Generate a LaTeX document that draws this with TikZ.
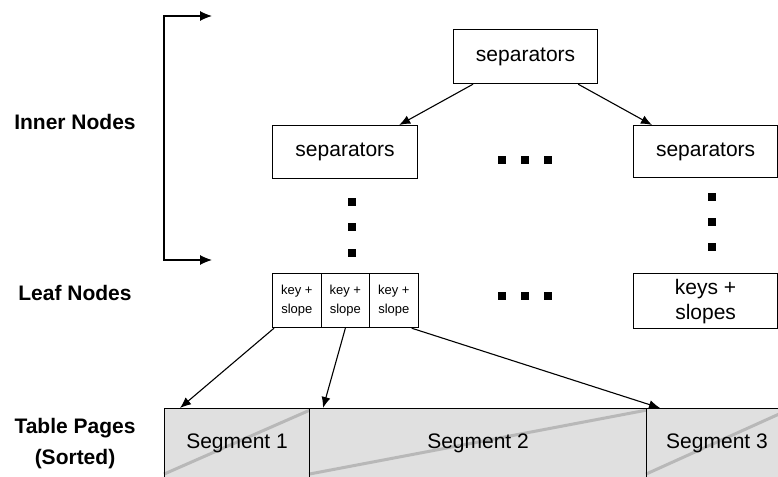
\documentclass[tikz,border=0pt]{standalone}
\usepackage{fontspec}
\setmainfont{Liberation Sans}
\usetikzlibrary{arrows.meta,backgrounds}
\begin{document}
\begin{tikzpicture}[x=1pt,y=-1pt,
  font=\fontsize{21}{25}\selectfont,
  box/.style={draw,line width=1.2pt,inner sep=0pt,anchor=north west,align=center},
  cell/.style={draw,line width=1.2pt,inner sep=0pt,anchor=north west,align=center,
    minimum width=48.5pt,minimum height=54pt,font=\fontsize{13}{19}\selectfont},
  seg/.style={draw,line width=1.1pt,inner sep=0pt,anchor=north west,minimum height=70pt},
  arr/.style={line width=1.1pt,-{Latex[length=11pt,width=9pt]}},
  sq/.style={fill=black,inner sep=0pt,minimum size=7.5pt},
  lab/.style={font=\bfseries\fontsize{21}{31}\selectfont,align=center}]
\clip (0,0) rectangle (778,476);

% level labels
\node[lab] (linner) at (75,122) {Inner Nodes};
\node[lab] (lleaf) at (75,293) {Leaf Nodes};
\node[lab] (ltable) at (75,444) {Table Pages\\(Sorted)};

% bracket spanning the inner levels
\coordinate (btop) at (212,16);
\coordinate (bbot) at (212,260);
\draw[line width=1.1pt,{Latex[length=12pt,width=10pt]}-{Latex[length=12pt,width=10pt]}]
  (btop) -- (164,16) -- (164,260) -- (bbot);

% inner nodes
\node[box,minimum width=144pt,minimum height=54pt] (root) at (453,29) {separators};
\node[box,minimum width=145pt,minimum height=53pt] (sepL) at (272,125) {separators};
\node[box,minimum width=144pt,minimum height=52pt] (sepR) at (633,125) {separators};
\draw[arr] ([xshift=20pt]root.south west) -- ([xshift=-19pt]sepL.north east);
\draw[arr] ([xshift=-20pt]root.south east) -- ([xshift=19pt]sepR.north west);

% horizontal ellipses
\node[sq] (h1) at (502,160) {};
\node[sq] (h2) at (525,160) {};
\node[sq] (h3) at (548,160) {};
\node[sq] (h4) at (502,296) {};
\node[sq] (h5) at (525,296) {};
\node[sq] (h6) at (548,296) {};

% vertical ellipses
\node[sq] (v1) at (352,202) {};
\node[sq] (v2) at (352,227) {};
\node[sq] (v3) at (352,253) {};
\node[sq] (v4) at (712,197) {};
\node[sq] (v5) at (712,222) {};
\node[sq] (v6) at (712,247) {};

% leaf nodes
\node[cell] (c1) at (272,273) {key +\\slope};
\node[cell] (c2) at (320.5,273) {key +\\slope};
\node[cell] (c3) at (369,273) {key +\\slope};
\node[box,minimum width=144pt,minimum height=55pt,font=\fontsize{21}{25}\selectfont] (leafR) at (633,273) {keys +\\slopes};

% table pages (the last page runs past the right edge)
\node[seg,minimum width=145pt] (s1) at (164,408) {Segment 1};
\node[seg,minimum width=337pt] (s2) at (309,408) {Segment 2};
\node[seg,minimum width=170pt] (s3) at (646,408) {};
\node (s3t) at (717,443) {Segment 3};
\coordinate (s3ne) at (788,408);
\begin{scope}[on background layer]
  \foreach \s in {s1,s2} {
    \fill[black!12] (\s.south west) rectangle (\s.north east);
    \draw[black!28,line width=3pt] ([yshift=5pt]\s.south west) -- ([yshift=-2pt]\s.north east);
  }
  \fill[black!12] (s3.south west) rectangle (s3.north east);
  \draw[black!28,line width=3pt] ([yshift=5pt]s3.south west) -- ([yshift=-2pt]s3ne);
\end{scope}

\draw[arr] ([xshift=2pt]c1.south west) -- ([xshift=16pt]s1.north west);
\draw[arr] (c2.south) -- ([xshift=14pt]s2.north west);
\draw[arr] ([xshift=-7pt]c3.south east) -- ([xshift=14pt]s3.north west);
\end{tikzpicture}
\end{document}
